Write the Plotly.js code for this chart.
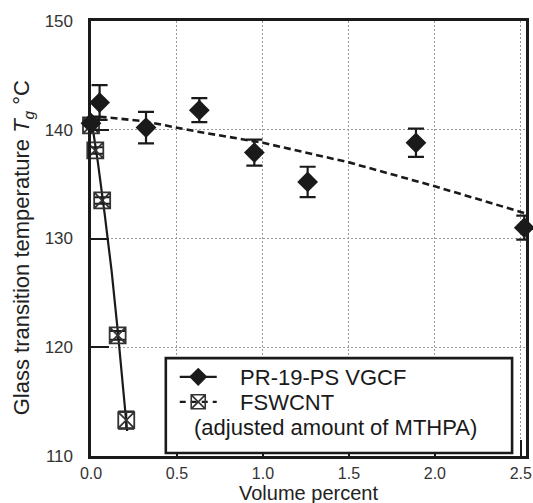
<!DOCTYPE html>
<html>
<head>
<meta charset="utf-8">
<script src="https://cdn.plot.ly/plotly-3.0.1.min.js"></script>
<style>html,body{margin:0;padding:0;background:#fff}#chart{width:533px;height:503px}</style>
</head>
<body>
<div id="chart"></div>
<script>
// PR-19-PS VGCF (diamonds)
const vgcfX = [0, 0.05, 0.32, 0.63, 0.95, 1.26, 1.89, 2.52];
const vgcfY = [140.6, 142.5, 140.2, 141.8, 137.9, 135.2, 138.8, 131.0];
const vgcfErr = [0.6, 1.6, 1.45, 1.1, 1.2, 1.4, 1.3, 1.1];
// FSWCNT (crossed squares)
const fswX = [0, 0.025, 0.065, 0.155, 0.205];
const fswY = [140.4, 138.1, 133.5, 121.1, 113.3];
const fswErr = [0.4, 0.3, 0.3, 0.4, 0.8];
// trend curves
const vgcfFitX = [0.05, 0.3, 0.63, 1.0, 1.5, 2.0, 2.53];
const vgcfFitY = [141.2, 140.8, 139.8, 138.8, 137.0, 134.8, 132.3];
const fswFitX = [0, 0.04, 0.08, 0.12, 0.155, 0.2, 0.21];
const fswFitY = [141.2, 137.0, 132.2, 127.0, 121.6, 114.0, 112.3];
const legendNames = ["PR-19-PS VGCF", "FSWCNT"];
const legendNote = "(adjusted amount of MTHPA)";
const xTitle = "Volume percent";
const yTitle = "Glass transition temperature <i>T<sub>g</sub></i> °C";
const xTicks = [0, 0.5, 1.0, 1.5, 2.0, 2.5];
const xTickText = ["0.0", "0.5", "1.0", "1.5", "2.0", "2.5"];
const yTicks = [110, 120, 130, 140, 150];

const FONT = "Liberation Sans, Arial, Helvetica, sans-serif";
const INK = "#1a1a1a";
const PAD = "&nbsp;&nbsp;&nbsp;";

const traces = [
  {x: vgcfFitX, y: vgcfFitY, mode: "lines", showlegend: false, hoverinfo: "skip",
   line: {color: INK, width: 2.6, dash: "7px,4px"}, cliponaxis: false},
  {x: fswFitX, y: fswFitY, mode: "lines", showlegend: false, hoverinfo: "skip",
   line: {color: INK, width: 2.2}},
  {x: fswX, y: fswY, mode: "markers", showlegend: false, cliponaxis: false,
   marker: {symbol: "square-x-open", size: 16, color: "#333", line: {width: 1.8, color: "#333"}},
   error_y: {type: "data", array: fswErr, visible: true, color: INK, thickness: 2, width: 8}},
  {x: vgcfX, y: vgcfY, mode: "markers", showlegend: false, cliponaxis: false,
   marker: {symbol: "diamond", size: 16, color: INK},
   error_y: {type: "data", array: vgcfErr, visible: true, color: INK, thickness: 2.2, width: 8}},
  // legend-only entries
  {x: [null], y: [null], name: PAD + legendNames[0], mode: "lines+markers", legend: "legend",
   line: {color: INK, width: 2.2}, marker: {symbol: "diamond", size: 14, color: INK}},
  {x: [null], y: [null], name: PAD + legendNames[1], mode: "lines+markers", legend: "legend2",
   line: {color: INK, width: 2.2, dash: "6px,5px"},
   marker: {symbol: "square-x-open", size: 14, color: "#333", line: {width: 1.6, color: "#333"}}}
];

const legendBase = {xanchor: "left", yanchor: "middle", bgcolor: "rgba(0,0,0,0)",
  borderwidth: 0, itemwidth: 37, font: {family: FONT, size: 22, color: INK}};

const layout = {
  width: 533, height: 503,
  margin: {l: 91, r: 7, t: 21, b: 47},
  paper_bgcolor: "#fff", plot_bgcolor: "#fff",
  font: {family: FONT, color: INK},
  showlegend: true,
  legend: Object.assign({x: 0.1925, y: 0.1816}, legendBase),
  legend2: Object.assign({x: 0.1925, y: 0.1241}, legendBase),
  xaxis: {
    range: [0, 2.53], tickvals: xTicks, ticktext: xTickText,
    ticks: "inside", ticklen: 16, tickwidth: 2, tickcolor: INK,
    ticklabelstandoff: 1,
    showline: true, linecolor: INK, linewidth: 2.6, mirror: true,
    showgrid: true, gridcolor: "#9a9a9a", gridwidth: 1, griddash: "2px,2px",
    zeroline: false, tickfont: {family: FONT, size: 16, color: "#333"}
  },
  yaxis: {
    range: [110, 150], tickvals: yTicks,
    ticks: "inside", ticklen: 18, tickwidth: 2, tickcolor: INK,
    ticklabelstandoff: 12,
    showline: true, linecolor: INK, linewidth: 2.6, mirror: true,
    showgrid: true, gridcolor: "#9a9a9a", gridwidth: 1, griddash: "2px,2px",
    zeroline: false, tickfont: {family: FONT, size: 17, color: "#333"},
    title: {text: yTitle + "&nbsp;&nbsp;&nbsp;",
      font: {family: FONT, size: 22, color: "#222"}, standoff: 9}
  },
  shapes: [
    {type: "rect", xref: "paper", yref: "paper", x0: 0.172, x1: 0.968, y0: 0.007, y1: 0.225,
     layer: "above", fillcolor: "#fff", line: {color: INK, width: 2.6}}
  ],
  annotations: [
    {text: legendNote, xref: "paper", yref: "paper", x: 0.232, y: 0.0644,
     xanchor: "left", yanchor: "middle", showarrow: false,
     font: {family: FONT, size: 22, color: INK}},
    {text: xTitle, xref: "paper", yref: "paper", x: 0.5, y: -0.0851,
     xanchor: "center", yanchor: "middle", showarrow: false,
     font: {family: FONT, size: 20, color: "#222"}}
  ]
};

Plotly.newPlot("chart", traces, layout, {displayModeBar: false, staticPlot: true});
</script>
</body>
</html>
